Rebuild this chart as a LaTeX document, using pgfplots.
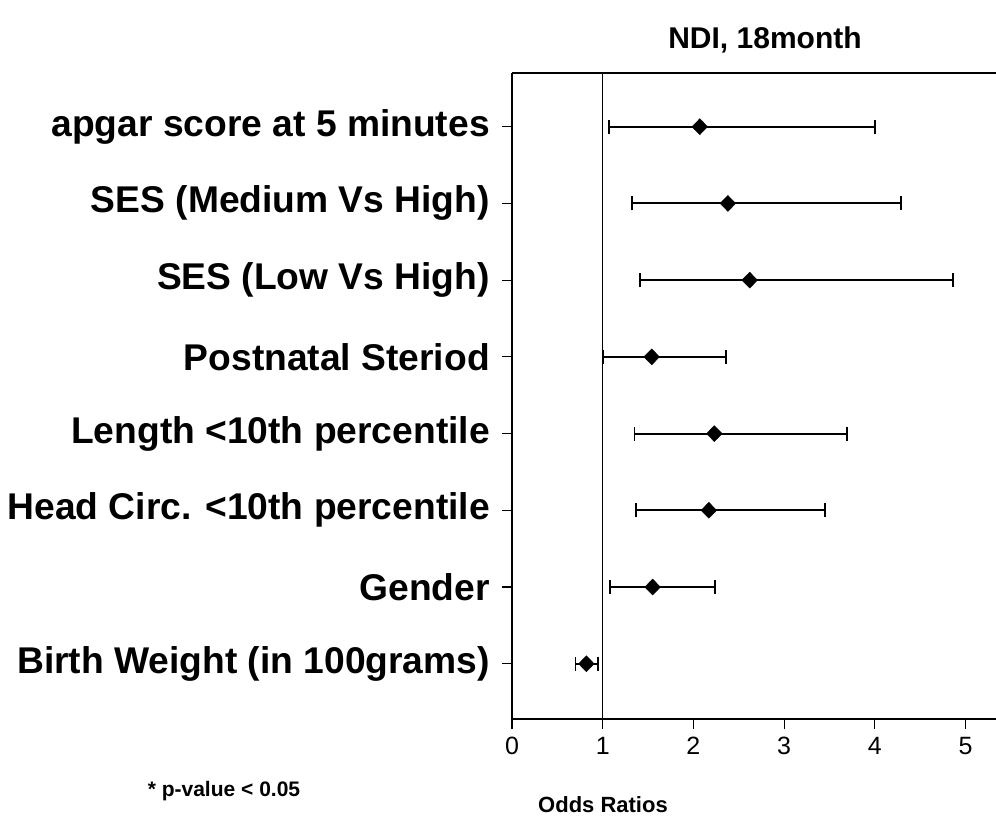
\documentclass[border=0pt]{standalone}
\usepackage{fontspec}
\setmainfont{Liberation Sans}
\usepackage{pgfplots}
\pgfplotsset{compat=1.18}
\usepackage{pgfplotstable}
\usetikzlibrary{calc}

% y = row (1 = bottom), or = odds ratio, lo/hi = 95% CI
\pgfplotstableread{
y  or    lo    hi
8  2.07  1.07  4.00
7  2.38  1.32  4.29
6  2.62  1.41  4.86
5  1.54  1.00  2.36
4  2.23  1.35  3.69
3  2.17  1.37  3.45
2  1.55  1.08  2.24
1  0.82  0.70  0.95
}\ndi

\begin{document}
\begin{tikzpicture}
\begin{axis}[
  name=ax,
  scale only axis,
  width=484bp, height=646bp,
  xmin=0, xmax=5.335, ymin=0.28, ymax=8.7,
  axis x line*=bottom, axis y line*=left,
  axis line style={line width=1.3pt},
  every outer x axis line/.append style={-},
  every outer y axis line/.append style={-},
  xtick={0,1,2,3,4,5},
  ytick={1,2,3,4,5,6,7,8},
  yticklabels={Birth Weight (in 100grams),Gender,Head Circ. <10th percentile,Length <10th percentile,Postnatal Steriod,SES (Low Vs High),SES (Medium Vs High),apgar score at 5 minutes},
  tick align=outside,
  major tick length=10bp,
  tick style={line width=1.2pt, black},
  /pgf/number format/assume math mode=true,
  xticklabel style={font=\fontsize{25bp}{28bp}\selectfont, inner sep=0pt, yshift=-8bp},
  yticklabel style={font=\bfseries\fontsize{37.2bp}{40bp}\selectfont, inner sep=0pt, anchor=east, xshift=-12bp},
  clip=false,
]
\addplot[black, line width=1.3pt] coordinates {(1,0.28) (1,8.7)};
\addplot[black, mark=diamond*, mark size=8bp, mark options={solid, line width=0.4pt, xscale=1.3},
  error bars/.cd, x dir=both, x explicit,
  error bar style={line width=2pt},
  error mark options={line width=1.6pt, mark size=7bp, rotate=90}]
  table[x=or, y=y,
    x error plus expr=\thisrow{hi}-\thisrow{or},
    x error minus expr=\thisrow{or}-\thisrow{lo},
    only marks] {\ndi};
\end{axis}
\draw[line width=1.3pt] (ax.north west) -- (ax.north east);
\node[font=\bfseries\fontsize{30bp}{34bp}\selectfont] at ($(ax.north west)+(253bp,33bp)$) {NDI, 18month};
\node[font=\bfseries\fontsize{22bp}{24bp}\selectfont] at ($(ax.south west)+(91bp,-86bp)$) {Odds Ratios};
\node[font=\bfseries\fontsize{21bp}{24bp}\selectfont] at ($(ax.south west)+(-288bp,-72bp)$) {* p-value < 0.05};
\pgfresetboundingbox
\path ($(ax.south west)+(-512bp,-102bp)$) rectangle ($(ax.north east)+(0,73bp)$);
\end{tikzpicture}
\end{document}
